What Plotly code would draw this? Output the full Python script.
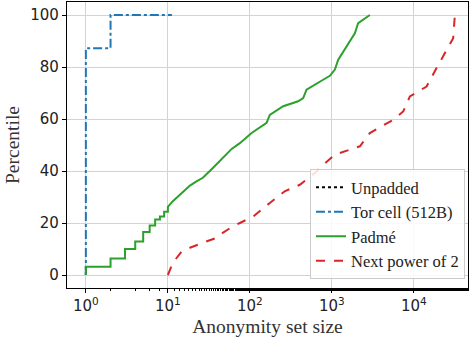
import plotly.graph_objects as go

# ---- data ----
unpadded_x = [1, 1]
unpadded_y = [0, 3.2]

tor_x = [1, 1, 2, 2, 11.2]
tor_y = [0, 87.2, 87.2, 100, 100]

padme_x = [1, 1, 2, 2, 3, 3, 4, 4, 5, 5, 6, 6, 7, 7, 8, 8, 9, 9, 10, 10,
           11.5, 14, 18.6, 22.6, 26.7, 34.4, 45, 60, 75.5, 105, 160, 175,
           255, 388, 447, 491, 783, 946, 1088, 1195, 1907, 2092, 2905]
padme_y = [0, 3.2, 3.2, 6.3, 6.3, 10, 10, 12.9, 12.9, 16.5, 16.5, 19, 19, 21.3,
           21.3, 22.5, 22.5, 24.3, 24.3, 26.2,
           28.4, 31, 34.4, 36.1, 37.4, 40.8, 44.5, 48.5, 50.7, 54.6, 58.5, 61.6,
           64.9, 66.8, 68, 71.3, 75.1, 76.6, 79, 82.8, 93, 96.9, 100]

pow2_x = [10, 11.5, 14.7, 18.6, 26.7, 39.2, 43, 62, 75.5, 110, 175, 266, 407,
          651, 714, 1088, 2195, 2905, 5596, 7413, 8940, 14280, 18900, 30150, 31620]
pow2_y = [0, 4.7, 9, 10.5, 12.4, 14.3, 15.5, 18.7, 20, 22.5, 27.7, 32.2, 34.7,
          39.8, 41.2, 46.3, 49.5, 54.6, 59.7, 62.9, 68.7, 72.5, 79.6, 91.1, 100]

x_tickvals = [1, 10, 100, 1000, 10000]
x_ticktext = ["10<sup>0</sup>", "10<sup>1</sup>", "10<sup>2</sup>", "10<sup>3</sup>", "10<sup>4</sup>"]
y_tickvals = [0, 20, 40, 60, 80, 100]

fig = go.Figure()
fig.add_trace(go.Scatter(x=unpadded_x, y=unpadded_y, mode="lines", name="Unpadded",
                         line=dict(color="black", width=2, dash="dot")))
fig.add_trace(go.Scatter(x=tor_x, y=tor_y, mode="lines", name="Tor cell (512B)",
                         line=dict(color="#1f77b4", width=2, dash="dashdot")))
fig.add_trace(go.Scatter(x=padme_x, y=padme_y, mode="lines", name="Padmé",
                         line=dict(color="#2ca02c", width=2)))
fig.add_trace(go.Scatter(x=pow2_x, y=pow2_y, mode="lines", name="Next power of 2",
                         line=dict(color="#d62728", width=2, dash="dash")))

serif = "Liberation Serif"
sans = "DejaVu Sans"

fig.update_layout(
    width=470, height=343,
    margin=dict(l=67, r=2, t=2, b=55),
    paper_bgcolor="white", plot_bgcolor="white",
    showlegend=True,
    legend=dict(x=0.9925, y=0.031, xanchor="right", yanchor="bottom",
                bgcolor="rgba(255,255,255,0.85)", bordercolor="#cccccc", borderwidth=1,
                font=dict(family=serif, size=16.5, color="#222"),
                tracegroupgap=0, itemwidth=30),
    xaxis=dict(type="log", range=[-0.23, 4.66],
               tickvals=x_tickvals, ticktext=x_ticktext,
               ticks="outside", ticklen=4, tickcolor="black",
               tickfont=dict(family=sans, size=15, color="#222"),
               showgrid=True, gridcolor="#d3d3d3", gridwidth=1,
               showline=True, linecolor="black", linewidth=1.2, mirror=True,
               zeroline=False,
               minor=dict(ticks="outside", ticklen=2, tickcolor="black", showgrid=False),
               title=dict(text="Anonymity set size", font=dict(family=serif, size=19.5, color="#333"),
                          standoff=5)),
    yaxis=dict(range=[-5, 105], tickvals=y_tickvals,
               ticks="outside", ticklen=4, tickcolor="black",
               tickfont=dict(family=sans, size=15, color="#222"),
               showgrid=True, gridcolor="#d3d3d3", gridwidth=1,
               showline=True, linecolor="black", linewidth=1.2, mirror=True,
               zeroline=False,
               title=dict(text="Percentile", font=dict(family=serif, size=19.5, color="#333"),
                          standoff=5)),
)

fig.write_html("out.html")
